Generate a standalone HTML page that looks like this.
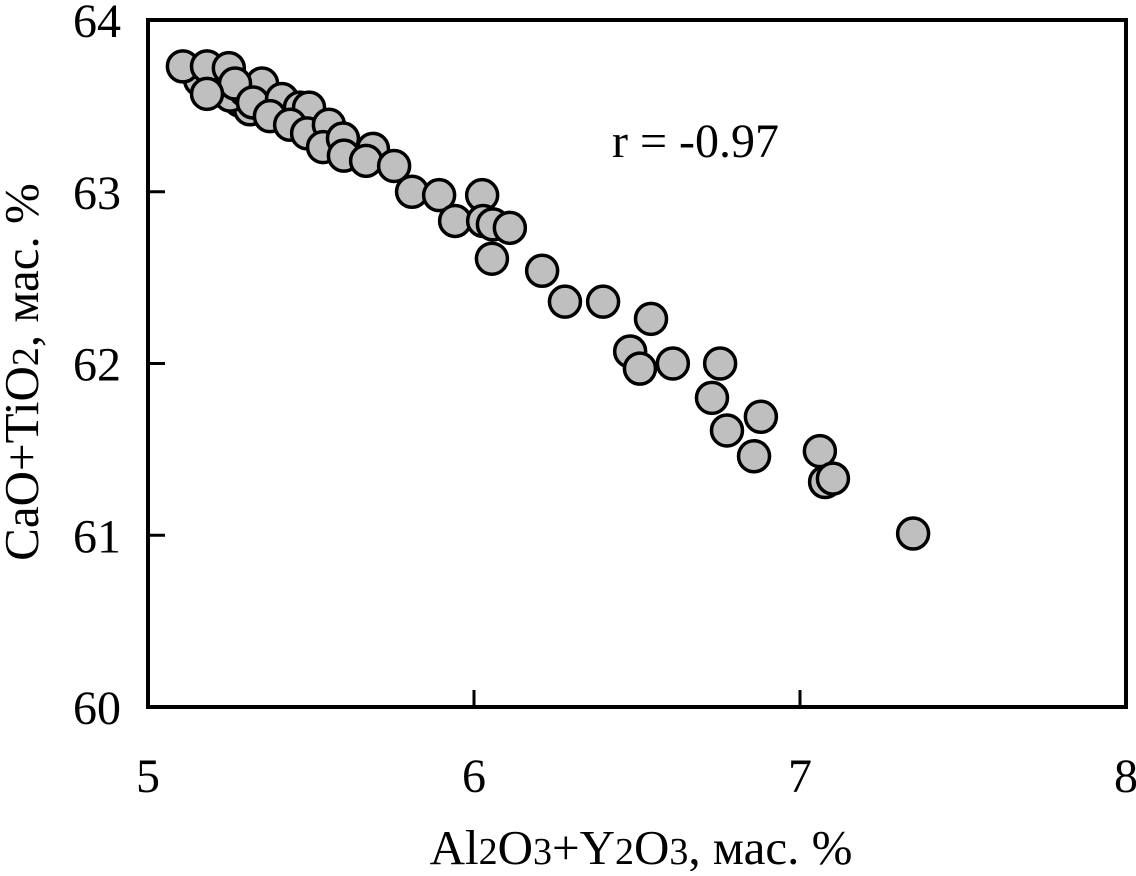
<!DOCTYPE html>
<html><head><meta charset="utf-8"><style>
body{margin:0;background:#fff}
text{font-family:"Liberation Serif",serif;fill:#000}
</style></head><body>
<svg id="chart" width="1136" height="871" viewBox="0 0 1136 871" xmlns="http://www.w3.org/2000/svg">
<g id="marks"></g>
<rect x="148" y="20" width="978" height="687" fill="none" stroke="#000" stroke-width="4"/>
<g id="axes"></g>
<text x="612" y="157" font-size="48">r = -0.97</text>
<text x="641" y="864" font-size="49" text-anchor="middle">Al<tspan font-size="38">2</tspan>O<tspan font-size="38">3</tspan>+Y<tspan font-size="38">2</tspan>O<tspan font-size="38">3</tspan>, мас. %</text>
<text transform="translate(38,372) rotate(-90)" font-size="49" text-anchor="middle">CaO+TiO<tspan font-size="38">2</tspan>, мас. %</text>
</svg>
<script>
const xVals=[5.160,5.221,5.282,5.313,5.344,5.405,5.252,5.298,
5.107,5.181,5.248,5.350,5.267,5.181,5.322,5.411,5.466,5.494,5.374,5.436,5.488,5.555,5.537,5.598,5.601,5.690,5.669,5.755,5.810,5.893,6.025,5.942,6.028,6.058,6.110,6.055,6.209,6.279,6.396,6.479,6.509,6.543,6.610,6.755,6.730,6.776,6.880,6.859,7.061,7.077,7.101,7.347];
const yVals=[63.65,63.59,63.53,63.48,63.51,63.48,63.56,63.59,
63.73,63.73,63.72,63.63,63.63,63.57,63.52,63.54,63.49,63.49,63.44,63.39,63.34,63.39,63.26,63.31,63.21,63.25,63.18,63.15,63.00,62.98,62.98,62.83,62.83,62.81,62.79,62.61,62.54,62.36,62.36,62.07,61.97,62.26,62.00,62.00,61.80,61.61,61.69,61.46,61.49,61.31,61.33,61.01];
const xTicks=[5,6,7,8];
const yTicks=[60,61,62,63,64];
const NS='http://www.w3.org/2000/svg';
const X=v=>148+(v-5)*326;
const Y=v=>707-(v-60)*171.75;
const marks=document.getElementById('marks');
for(let i=0;i<xVals.length;i++){
  const c=document.createElementNS(NS,'circle');
  c.setAttribute('cx',X(xVals[i]));c.setAttribute('cy',Y(yVals[i]));c.setAttribute('r',15.5);
  c.setAttribute('fill','#bfbfbf');c.setAttribute('stroke','#000');c.setAttribute('stroke-width',3.5);
  
  
  marks.appendChild(c);
}
const axes=document.getElementById('axes');
xTicks.forEach(t=>{
  const l=document.createElementNS(NS,'line');
  l.setAttribute('x1',X(t));l.setAttribute('x2',X(t));l.setAttribute('y1',707);l.setAttribute('y2',690);
  l.setAttribute('stroke','#000');l.setAttribute('stroke-width',3);
  
  
  axes.appendChild(l);
  const tx=document.createElementNS(NS,'text');
  tx.setAttribute('x',X(t));tx.setAttribute('y',792);tx.setAttribute('font-size',48);tx.setAttribute('text-anchor','middle');
  tx.textContent=t;
  
  
  axes.appendChild(tx);
});
yTicks.forEach(t=>{
  const l=document.createElementNS(NS,'line');
  l.setAttribute('x1',148);l.setAttribute('x2',165);l.setAttribute('y1',Y(t));l.setAttribute('y2',Y(t));
  l.setAttribute('stroke','#000');l.setAttribute('stroke-width',3);
  
  
  axes.appendChild(l);
  const tx=document.createElementNS(NS,'text');
  tx.setAttribute('x',121);tx.setAttribute('y',Y(t)+17);tx.setAttribute('font-size',48);tx.setAttribute('text-anchor','end');
  tx.textContent=t;
  
  
  axes.appendChild(tx);
});
</script>
</body></html>
